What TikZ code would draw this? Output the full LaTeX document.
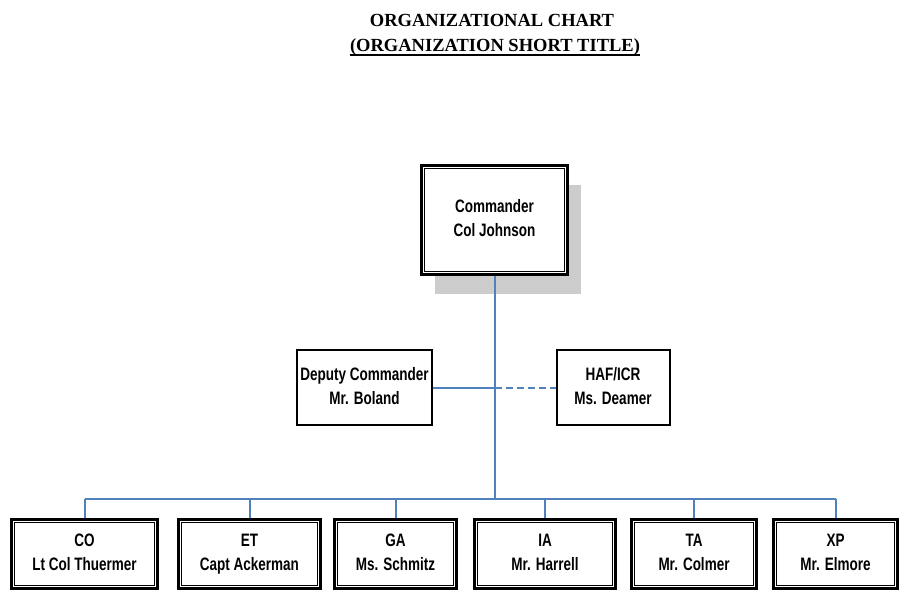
\documentclass[tikz,border=0pt]{standalone}
\usepackage{fontspec}
\setmainfont{Liberation Serif}
\newfontfamily\boxfont[FakeStretch=0.75]{Liberation Sans Bold}
\usetikzlibrary{shadows}
\definecolor{linkblue}{RGB}{79,129,189}

\tikzset{
  heading/.style={font=\bfseries\fontsize{18.5}{22}\selectfont, inner sep=0pt, anchor=base},
  boxtext/.style={font=\boxfont\fontsize{18}{24}\selectfont, align=center, inner sep=0pt},
  mainbox/.style={boxtext, draw, line width=3pt, fill=white, minimum width=146pt, minimum height=109pt,
    drop shadow={shadow xshift=13pt, shadow yshift=-19pt, fill=black!20, opacity=1}},
  sidebox/.style={boxtext, draw, line width=2pt, fill=white, minimum height=75pt},
  unitbox/.style={boxtext, draw, line width=3pt, fill=white, minimum height=69pt},
  innerline/.style={line width=1.3pt},
  link/.style={draw=linkblue, line width=2pt},
}

\begin{document}
\begin{tikzpicture}[x=1pt,y=1pt]
  \useasboundingbox (0,0) rectangle (901,-592);

  % title
  \node[heading] (title) at (492,-26) {ORGANIZATIONAL CHART};
  \node[heading] (subtitle) at (495,-51) {(ORGANIZATION SHORT TITLE)};
  \draw[line width=2pt] ([yshift=-4pt]subtitle.base west) -- ([yshift=-4pt]subtitle.base east);

  % top of the chart
  \node[mainbox] (cmd) at (494.5,-220) {\strut Commander\\\strut Col Johnson};
  \draw[innerline] ([shift={(4.5pt,4.5pt)}]cmd.south west) rectangle ([shift={(-4.5pt,-4.5pt)}]cmd.north east);

  \node[sidebox, minimum width=135pt] (dep) at (364.5,-387.5) {\strut Deputy Commander\\\strut Mr. Boland};
  \node[sidebox, minimum width=113pt] (haf) at (613,-387.5) {\strut HAF/ICR\\\strut Ms. Deamer};

  \coordinate (bus) at (495,-499);
  \draw[link] (cmd.south) -- (cmd.south |- bus);
  \draw[link] (dep.east) -- (dep.east -| cmd.south);
  \draw[link, dash pattern=on 7pt off 4pt] (dep.east -| cmd.south) -- (haf.west);

  % staff offices
  \def \Units {
    co/84.5/146/CO/Lt Col Thuermer,
    et/249.5/142/ET/Capt Ackerman,
    ga/395.5/122/GA/Ms. Schmitz,
    ia/545/141/IA/Mr. Harrell,
    ta/694/125/TA/Mr. Colmer,
    xp/835.5/124/XP/Mr. Elmore}

  \foreach \id / \x / \w / \code / \who in \Units {
    \node[unitbox, minimum width=\w pt] (\id) at (\x,-554) {\strut\code\\\strut\who};
    \draw[innerline] ([shift={(4.5pt,4.5pt)}]\id.south west) rectangle ([shift={(-4.5pt,-4.5pt)}]\id.north east);
    \draw[link] (\id.north) -- (\id.north |- bus);
  }
  \draw[link] (co.north |- bus) -- (xp.north |- bus);
\end{tikzpicture}
\end{document}
